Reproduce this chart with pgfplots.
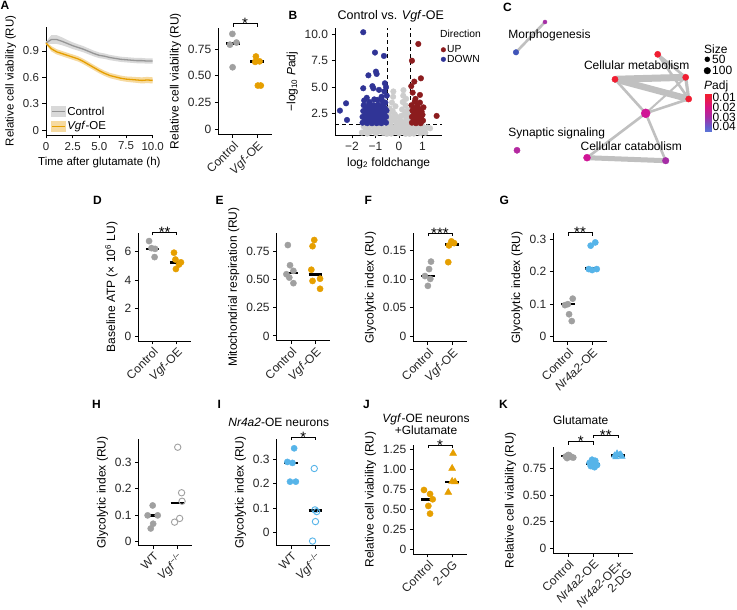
\documentclass[border=0pt]{standalone}
\usepackage{fontspec}
\setmainfont{Liberation Sans}
\usepackage{pgfplots}
\pgfplotsset{compat=1.18}
\newcommand{\fs}[1]{\fontsize{#1}{#1}\selectfont}
\definecolor{ggray}{RGB}{160,160,160}
\definecolor{gorange}{RGB}{230,159,0}
\definecolor{gblue}{RGB}{86,180,233}
\definecolor{ctlband}{RGB}{217,217,217}
\definecolor{ctlline}{RGB}{150,150,150}
\definecolor{vgfband}{RGB}{246,218,160}
\definecolor{downblue}{RGB}{48,52,150}
\definecolor{upred}{RGB}{140,28,30}
\definecolor{nsgray}{RGB}{205,205,205}
\definecolor{edgegray}{RGB}{192,192,192}
\definecolor{nred}{RGB}{240,30,50}
\definecolor{nmag}{RGB}{208,20,150}
\definecolor{npur}{RGB}{165,45,165}
\definecolor{nblue}{RGB}{65,85,185}
\pgfplotsset{
  gg/.style={scale only axis, anchor=south west, axis lines=left,
    axis line style={-, line width=0.8pt}, tick align=outside, major tick length=3.5pt,
    every tick/.style={black, line width=0.8pt},
    tick label style={font=\fs{12}, text=black!85},
    label style={font=\fs{12}},
    /pgf/number format/assume math mode=true, clip=false, scaled ticks=false},
  cat2/.style={xmin=0.4, xmax=2.6, xtick={1,2},
    xticklabel style={rotate=45, anchor=north east, inner sep=1.5pt, align=right}},
  pts/.style={only marks, mark=*, mark size=3.1pt, forget plot},
  med/.style={black, line width=2.6pt, forget plot},
  brk/.style={black, line width=0.6pt, forget plot},
}
\newcommand{\sig}[2]{\node[anchor=base, font=\fs{15}, inner sep=0pt] at (axis cs:#1) [yshift=-5.2pt] {#2};}
\begin{document}
\begin{tikzpicture}[x=1pt,y=1pt]
\useasboundingbox (0,0) rectangle (737,610);
\fill[white] (0,0) rectangle (737,610);

% ---------- Panel letters and titles ----------
\begin{scope}[every node/.style={inner sep=0pt, font=\bfseries\fs{12}, anchor=base west}]
\node at (0.5,600) {A};
\node at (288.5,590.5) {B};
\node at (503,598.7) {C};
\node at (93,405) {D};
\node at (215.5,405) {E};
\node at (364.5,405) {F};
\node at (499.5,405) {G};
\node at (92,201) {H};
\node at (217.5,201) {I};
\node at (363,201) {J};
\node at (499,201) {K};
\end{scope}
\node[anchor=base, inner sep=0pt, font=\fs{12.5}] at (390.8,590.5) {Control vs. \textit{Vgf}-OE};
\node[anchor=base, inner sep=0pt, font=\fs{12}] at (278.7,183) {\textit{Nr4a2}-OE neurons};
\node[anchor=base, inner sep=0pt, font=\fs{12}] at (426,187.4) {\textit{Vgf}-OE neurons};
\node[anchor=base, inner sep=0pt, font=\fs{12}] at (426,175) {+Glutamate};
\node[anchor=base, inner sep=0pt, font=\fs{12}] at (580.7,185.7) {Glutamate};

% ---------- A left: time course ----------
\begin{axis}[gg, at={(46pt,475pt)}, width=106.7pt, height=108.3pt,
  xmin=0, xmax=10, ymin=-0.056, ymax=1.176,
  xtick={0,2.5,5,7.5,10}, xticklabels={0,2.5,5.0,7.5,10.0},
  ytick={0,0.3,0.6,0.9}, yticklabels={0,0.3,0.6,0.9},
  tick label style={font=\fs{11.5}}, label style={font=\fs{11.5}},
  xlabel={Time after glutamate (h)}, ylabel={Relative cell viability (RU)},
  legend style={at={(axis cs:0.45,-0.035)}, anchor=south west, draw=none, fill=none,
    font=\fs{11.5}, row sep=2pt, inner sep=0pt, nodes={inner sep=1.5pt}},
  legend cell align=left]
\addplot[fill=ctlband, draw=none, forget plot] coordinates {
(0,1.005) (0.5,1.08) (1,1.08) (1.5,1.055) (2,1.025) (2.5,0.998) (3,0.976) (3.5,0.955) (4,0.929) (4.5,0.903) (5,0.882) (5.5,0.871) (6,0.855) (6.5,0.845) (7,0.835) (7.5,0.83) (8,0.825) (8.5,0.82) (9,0.82) (9.5,0.815) (10,0.815)
(10,0.755) (9.5,0.755) (9,0.76) (8.5,0.76) (8,0.765) (7.5,0.77) (7,0.775) (6.5,0.785) (6,0.795) (5.5,0.809) (5,0.818) (4.5,0.837) (4,0.861) (3.5,0.885) (3,0.904) (2.5,0.922) (2,0.945) (1.5,0.965) (1,0.98) (0.5,0.98) (0,0.975)};
\addplot[fill=vgfband, draw=none, forget plot] coordinates {
(0,1.005) (0.5,0.955) (1,0.92) (1.5,0.90) (2,0.88) (2.5,0.86) (3,0.84) (3.5,0.81) (4,0.775) (4.5,0.74) (5,0.705) (5.5,0.675) (6,0.65) (6.5,0.635) (7,0.62) (7.5,0.61) (8,0.607) (8.5,0.603) (9,0.60) (9.5,0.605) (10,0.60)
(10,0.53) (9.5,0.535) (9,0.53) (8.5,0.537) (8,0.543) (7.5,0.55) (7,0.56) (6.5,0.575) (6,0.59) (5.5,0.615) (5,0.645) (4.5,0.68) (4,0.715) (3.5,0.75) (3,0.78) (2.5,0.80) (2,0.82) (1.5,0.84) (1,0.86) (0.5,0.895) (0,0.975)};
\addplot[ctlline, line width=1.3pt, forget plot] coordinates {
(0,0.99) (0.5,1.03) (1,1.03) (1.5,1.01) (2,0.985) (2.5,0.96) (3,0.94) (3.5,0.92) (4,0.895) (4.5,0.87) (5,0.85) (5.5,0.84) (6,0.825) (6.5,0.815) (7,0.805) (7.5,0.80) (8,0.795) (8.5,0.79) (9,0.79) (9.5,0.785) (10,0.785)};
\addplot[gorange, line width=1.3pt, forget plot] coordinates {
(0,0.99) (0.5,0.925) (1,0.89) (1.5,0.87) (2,0.85) (2.5,0.83) (3,0.81) (3.5,0.78) (4,0.745) (4.5,0.71) (5,0.675) (5.5,0.645) (6,0.62) (6.5,0.605) (7,0.59) (7.5,0.58) (8,0.575) (8.5,0.57) (9,0.565) (9.5,0.57) (10,0.565)};
\addlegendimage{legend image code/.code={\fill[ctlband] (0pt,-5pt) rectangle (13.5pt,5pt); \draw[ctlline, line width=1.3pt] (0pt,0pt) -- (13.5pt,0pt);}}
\addlegendentry{Control}
\addlegendimage{legend image code/.code={\fill[vgfband] (0pt,-5pt) rectangle (13.5pt,5pt); \draw[gorange, line width=1.3pt] (0pt,0pt) -- (13.5pt,0pt);}}
\addlegendentry{\textit{Vgf}-OE}
\end{axis}

% ---------- A right ----------
\begin{axis}[gg, cat2, at={(218.3pt,475.5pt)}, width=53.4pt, height=106.5pt,
  ymin=-0.045, ymax=0.945, ytick={0,0.25,0.5,0.75}, yticklabels={0,0.25,0.50,0.75},
  xticklabels={Control,\textit{Vgf}-OE}, ylabel={Relative cell viability (RU)}]
\addplot[pts, ggray] coordinates {(0.98,0.89) (0.88,0.79) (1.15,0.81) (0.99,0.58)};
\addplot[pts, gorange] coordinates {(1.95,0.68) (2.1,0.635) (1.92,0.63) (2.03,0.41) (2.15,0.41)};
\addplot[med] coordinates {(0.72,0.80) (1.28,0.80)};
\addplot[med] coordinates {(1.72,0.635) (2.28,0.635)};
\addplot[brk] coordinates {(1,0.957) (1,0.985) (2,0.985) (2,0.957)};
\sig{1.5,0.985}{*}
\end{axis}

% ---------- B volcano ----------
\begin{axis}[gg, clip=true, at={(335pt,475pt)}, width=107.3pt, height=106.7pt,
  xmin=-2.72, xmax=1.84, ymin=0.49, ymax=10.56,
  xtick={-2,-1,0,1}, xticklabels={−2,−1,0,1},
  ytick={2.5,5,7.5,10}, yticklabels={2.5,5.0,7.5,10.0},
  xlabel={log\textsubscript{2} foldchange}, ylabel={−log\textsubscript{10} \textit{P}adj},
  legend style={at={(rel axis cs:0.985,0.852)}, anchor=north west, draw=none, fill=none,
    font=\fs{10.3}, row sep=-1.5pt, inner sep=0pt, nodes={inner sep=1.2pt}},
  legend cell align=left]
\addplot[only marks, mark=*, mark size=2.8pt, nsgray, forget plot] table {
-1.58 0.72
-1.50 1.30
-1.42 0.95
-1.35 0.62
-1.28 1.18
-1.20 0.80
-1.12 1.40
-1.05 0.98
-0.98 0.65
-0.90 1.22
-0.82 0.85
-0.75 1.38
-0.68 0.70
-0.60 1.05
-0.52 0.60
-0.46 1.30
-0.40 0.90
-0.33 0.62
-0.27 1.15
-0.20 0.78
-0.13 1.35
-0.06 0.95
0.00 0.65
0.07 1.20
0.14 0.82
0.21 1.42
0.28 0.60
0.35 1.00
0.42 1.28
0.49 0.75
0.56 1.10
0.63 0.62
0.70 1.35
0.77 0.88
0.84 1.18
0.91 0.66
0.98 1.40
1.05 0.95
1.12 0.70
1.20 1.20
1.32 1.12
-1.00 1.35
-0.70 1.00
-0.35 1.40
0.25 1.00
0.60 0.85
0.90 1.00
-1.30 0.90
0.00 1.10
-0.50 0.95
0.45 0.60
-0.47 1.75
-0.44 2.40
-0.40 3.00
-0.36 1.65
-0.33 2.10
-0.30 3.55
-0.27 2.75
-0.25 4.10
-0.24 4.60
-0.21 1.90
-0.18 2.45
-0.15 3.20
-0.12 1.70
-0.09 2.20
-0.05 1.60
0.06 1.85
0.10 2.30
0.13 2.90
0.16 3.60
0.18 4.20
0.19 4.72
0.22 1.70
0.25 2.50
0.28 3.30
0.31 2.05
0.34 1.62
0.37 2.85
0.40 2.25
0.44 1.80
0.47 2.60
-0.42 1.95
0.12 1.65
0.30 3.90
-0.38 2.65
};
\addplot[only marks, mark=*, mark size=2.8pt, downblue, forget plot] table {
-1.52 10.19
-1.02 8.27
-0.64 7.95
-0.98 6.47
-1.30 6.12
-0.95 6.25
-1.52 4.90
-1.09 4.90
-0.60 5.37
-2.51 2.79
-2.25 3.48
-2.21 1.91
-1.13 5.10
-1.37 4.00
-0.62 4.60
-0.74 4.10
-0.85 4.75
-0.55 5.00
-1.55 1.65
-1.55 2.20
-1.52 2.75
-1.50 3.30
-1.45 1.90
-1.42 2.50
-1.40 3.05
-1.35 1.60
-1.33 2.15
-1.30 2.80
-1.28 3.40
-1.25 1.85
-1.22 2.45
-1.20 3.00
-1.15 1.60
-1.13 2.20
-1.10 2.70
-1.08 3.30
-1.05 3.85
-1.05 1.90
-1.02 2.45
-1.00 3.00
-0.95 1.60
-0.93 2.15
-0.90 2.75
-0.88 3.35
-0.92 3.80
-0.85 1.85
-0.82 2.45
-0.80 3.05
-0.75 1.60
-0.73 2.20
-0.70 2.75
-0.68 3.30
-0.72 3.75
-0.65 1.90
-0.62 2.45
-0.60 3.05
-0.58 3.55
-0.55 1.65
-0.55 2.20
-0.53 2.80
-0.52 4.20
-1.48 3.75
-1.25 3.60
};
\addplot[only marks, mark=*, mark size=2.8pt, upred, forget plot] table {
0.82 9.08
0.55 7.50
0.93 5.84
0.65 5.53
0.58 4.49
0.89 4.27
0.67 3.64
0.89 3.55
1.60 2.29
0.52 5.10
0.55 1.65
0.55 2.20
0.57 2.80
0.53 3.30
0.62 1.90
0.64 2.45
0.66 3.00
0.72 1.60
0.74 2.15
0.76 2.70
0.78 3.25
0.82 1.85
0.84 2.40
0.86 2.95
0.92 1.60
0.94 2.15
0.96 2.70
1.02 1.85
1.00 2.40
1.04 3.10
0.70 3.90
};
\addplot[black, line width=0.9pt, dash pattern=on 4pt off 3pt, forget plot] coordinates {(-0.5,0.49) (-0.5,10.56)};
\addplot[black, line width=0.9pt, dash pattern=on 4pt off 3pt, forget plot] coordinates {(0.5,0.49) (0.5,10.56)};
\addplot[black, line width=0.9pt, dash pattern=on 4pt off 3pt, forget plot] coordinates {(-2.72,1.5) (1.84,1.5)};
\addlegendimage{legend image code/.code={\fill[upred] (2.2pt,0pt) circle (2.3pt);}}
\addlegendentry{UP}
\addlegendimage{legend image code/.code={\fill[downblue] (2.2pt,0pt) circle (2.3pt);}}
\addlegendentry{DOWN}
\end{axis}
\node[anchor=west, inner sep=0pt, font=\fs{10.3}] at (440,575.7) {Direction};

% ---------- C network ----------
\begin{axis}[at={(490pt,410pt)}, anchor=south west, scale only axis, width=247pt, height=200pt,
  xmin=490, xmax=737, ymin=0, ymax=200, y dir=reverse, hide axis, clip=false]
\addplot[edgegray, line width=2.6pt] coordinates {(545,22) (516,52.3)};
\addplot[edgegray, line width=7pt] coordinates {(615,79.3) (685.7,77.3)};
\addplot[edgegray, line width=6.5pt] coordinates {(615,79.3) (688.7,99)};
\addplot[edgegray, line width=2.6pt] coordinates {(657.7,54.3) (685.7,77.3)};
\addplot[edgegray, line width=2.6pt] coordinates {(657.7,54.3) (688.7,99)};
\addplot[edgegray, line width=3.2pt] coordinates {(685.7,77.3) (688.7,99)};
\addplot[edgegray, line width=2.6pt] coordinates {(615,79.3) (645.7,113.3)};
\addplot[edgegray, line width=2.6pt] coordinates {(645.7,113.3) (688.7,99)};
\addplot[edgegray, line width=2pt] coordinates {(645.7,113.3) (685.7,77.3)};
\addplot[edgegray, line width=2.6pt] coordinates {(645.7,113.3) (587,157.7)};
\addplot[edgegray, line width=2.6pt] coordinates {(645.7,113.3) (665.7,160.7)};
\addplot[edgegray, line width=5pt] coordinates {(587,157.7) (665.7,160.7)};
\addplot[only marks, mark=*, mark size=2pt, npur] coordinates {(545,22)};
\addplot[only marks, mark=*, mark size=2.8pt, nblue] coordinates {(516,52.3)};
\addplot[only marks, mark=*, mark size=3.1pt, nred] coordinates {(657.7,54.3) (615,79.3) (685.7,77.3) (688.7,99)};
\addplot[only marks, mark=*, mark size=4.5pt, nmag] coordinates {(645.7,113.3)};
\addplot[only marks, mark=*, mark size=3.1pt, color={rgb,255:red,180;green,40;blue,160}] coordinates {(517,150.3)};
\addplot[only marks, mark=*, mark size=3.5pt, nmag] coordinates {(587,157.7)};
\addplot[only marks, mark=*, mark size=3.3pt, npur] coordinates {(665.7,160.7)};
\node[font=\fs{12}] at (axis cs:549.5,35) {Morphogenesis};
\node[font=\fs{12}] at (axis cs:636.7,65) {Cellular metabolism};
\node[font=\fs{12}] at (axis cs:556.7,133.3) {Synaptic signaling};
\node[font=\fs{12}] at (axis cs:631.3,146.7) {Cellular catabolism};
\node[font=\fs{12}, anchor=west, inner sep=0pt] at (axis cs:704,49.3) {Size};
\addplot[only marks, mark=*, mark size=2.5pt, black] coordinates {(707.3,59.3)};
\addplot[only marks, mark=*, mark size=3.3pt, black] coordinates {(707.3,70.7)};
\node[font=\fs{12}, anchor=west, inner sep=0pt] at (axis cs:712,59.3) {50};
\node[font=\fs{12}, anchor=west, inner sep=0pt] at (axis cs:712,70.7) {100};
\node[font=\fs{12}, anchor=west, inner sep=0pt] at (axis cs:704,86) {\textit{P}adj};
\node[font=\fs{12}, anchor=west, inner sep=0pt] at (axis cs:712.3,97.3) {0.01};
\node[font=\fs{12}, anchor=west, inner sep=0pt] at (axis cs:712.3,107.1) {0.02};
\node[font=\fs{12}, anchor=west, inner sep=0pt] at (axis cs:712.3,116.9) {0.03};
\node[font=\fs{12}, anchor=west, inner sep=0pt] at (axis cs:712.3,126.7) {0.04};
\end{axis}
% colorbar
\begin{axis}[at={(704.3pt,478.3pt)}, anchor=south west, scale only axis, width=7.4pt, height=38.4pt,
  xmin=0, xmax=1, ymin=0, ymax=1, hide axis, view={0}{90},
  colormap={padj}{rgb255(0pt)=(90,120,215) rgb255(128pt)=(100,95,205) rgb255(384pt)=(165,45,165) rgb255(639pt)=(215,20,130) rgb255(895pt)=(238,28,60) rgb255(1000pt)=(242,30,45)},
  point meta min=0, point meta max=1]
\addplot3[surf, shader=interp, point meta=y] coordinates {
(0,0,0) (1,0,0)

(0,0.128,0) (1,0.128,0)

(0,0.384,0) (1,0.384,0)

(0,0.639,0) (1,0.639,0)

(0,0.895,0) (1,0.895,0)

(0,1,0) (1,1,0)
};
\end{axis}

% ---------- D ----------
\begin{axis}[gg, cat2, at={(138.3pt,269pt)}, width=52.7pt, height=108pt,
  ymin=-0.3, ymax=7.32, ytick={0,2,4,6},
  xticklabels={Control,\textit{Vgf}-OE}, ylabel={Baseline ATP (× 10\textsuperscript{6} LU)}]
\addplot[pts, ggray] coordinates {(0.85,6.75) (1.1,6.2) (0.95,6.25) (1.08,5.62)};
\addplot[pts, gorange] coordinates {(1.89,5.93) (2.18,5.25) (1.95,5.45) (1.97,4.78) (2.1,5.1)};
\addplot[med] coordinates {(0.72,6.2) (1.28,6.2)};
\addplot[med] coordinates {(1.72,5.22) (2.28,5.22)};
\addplot[brk] coordinates {(1,7.16) (1,7.37) (2,7.37) (2,7.16)};
\sig{1.5,7.37}{**}
\end{axis}

% ---------- E ----------
\begin{axis}[gg, cat2, at={(276.7pt,269.3pt)}, width=53.3pt, height=107.4pt,
  ymin=-0.043, ymax=0.915, ytick={0,0.25,0.5,0.75}, yticklabels={0,0.25,0.50,0.75},
  xticklabels={Control,\textit{Vgf}-OE}, ylabel={Mitochondrial respiration (RU)}]
\addplot[pts, ggray] coordinates {(0.86,0.81) (0.95,0.63) (1.09,0.58) (0.8,0.55) (0.92,0.52) (1.09,0.47)};
\addplot[pts, gorange] coordinates {(1.95,0.855) (1.88,0.80) (1.83,0.59) (1.88,0.49) (2.19,0.51) (2.19,0.42)};
\addplot[med] coordinates {(0.72,0.562) (1.28,0.562)};
\addplot[med] coordinates {(1.72,0.545) (2.28,0.545)};
\end{axis}

% ---------- F ----------
\begin{axis}[gg, cat2, at={(413.3pt,268.3pt)}, width=53.4pt, height=108.4pt,
  ymin=-0.0087, ymax=0.179, ytick={0,0.05,0.1,0.15}, yticklabels={0,0.05,0.10,0.15},
  xticklabels={Control,\textit{Vgf}-OE}, ylabel={Glycolytic index (RU)}]
\addplot[pts, ggray] coordinates {(1.13,0.130) (1.05,0.117) (0.88,0.105) (1.1,0.100) (1.0,0.088)};
\addplot[pts, gorange] coordinates {(1.97,0.165) (1.87,0.158) (2.08,0.162) (1.84,0.129)};
\addplot[med] coordinates {(0.72,0.105) (1.28,0.105)};
\addplot[med] coordinates {(1.72,0.160) (2.28,0.160)};
\addplot[brk] coordinates {(1,0.1737) (1,0.1789) (2,0.1789) (2,0.1737)};
\sig{1.5,0.1789}{***}
\end{axis}

% ---------- G ----------
\begin{axis}[gg, cat2, at={(553.3pt,268.3pt)}, width=53.4pt, height=108.7pt,
  ymin=-0.0154, ymax=0.319, ytick={0,0.1,0.2,0.3}, yticklabels={0,0.1,0.2,0.3},
  xticklabels={Control,\textit{Nr4a2}-OE}, ylabel={Glycolytic index (RU)}]
\addplot[pts, ggray] coordinates {(1.2,0.117) (0.88,0.097) (1.0,0.10) (1.05,0.069) (1.16,0.048)};
\addplot[pts, gblue] coordinates {(1.94,0.28) (2.13,0.29) (1.86,0.208) (2.19,0.208) (2.0,0.205)};
\addplot[med] coordinates {(0.72,0.10) (1.28,0.10)};
\addplot[med] coordinates {(1.72,0.21) (2.28,0.21)};
\addplot[brk] coordinates {(1,0.3108) (1,0.320) (2,0.320) (2,0.3108)};
\sig{1.5,0.320}{**}
\end{axis}

% ---------- H ----------
\begin{axis}[gg, cat2, at={(138.7pt,64.3pt)}, width=53pt, height=106.4pt,
  ymin=-0.015, ymax=0.387, ytick={0,0.1,0.2,0.3}, yticklabels={0,0.1,0.2,0.3},
  xticklabels={WT,\textit{Vgf}\textsuperscript{−/−}}, ylabel={Glycolytic index (RU)}]
\addplot[pts, ggray] coordinates {(0.98,0.137) (1.19,0.0996) (0.77,0.0996) (1.0,0.068) (0.9,0.050)};
\addplot[only marks, mark=o, mark size=3.2pt, line width=0.9pt, ggray, forget plot] coordinates {(2.02,0.357) (2.18,0.185) (2.2,0.153) (2.1,0.088) (1.89,0.074)};
\addplot[med] coordinates {(0.72,0.10) (1.28,0.10)};
\addplot[med] coordinates {(1.72,0.147) (2.28,0.147)};
\end{axis}

% ---------- I ----------
\begin{axis}[gg, cat2, at={(276.7pt,64.3pt)}, width=53.3pt, height=106.4pt,
  ymin=-0.055, ymax=0.382, ytick={0,0.1,0.2,0.3}, yticklabels={0,0.1,0.2,0.3},
  xticklabels={WT,\textit{Vgf}\textsuperscript{−/−}}, ylabel={Glycolytic index (RU)}]
\addplot[pts, gblue] coordinates {(1.12,0.345) (0.84,0.289) (1.05,0.285) (0.95,0.208) (1.19,0.208)};
\addplot[only marks, mark=o, mark size=3.2pt, line width=0.9pt, gblue, forget plot] coordinates {(1.95,0.262) (1.98,0.092) (2.05,0.085) (2.0,0.044) (1.88,-0.036)};
\addplot[med] coordinates {(0.72,0.285) (1.28,0.285)};
\addplot[med] coordinates {(1.72,0.09) (2.28,0.09)};
\addplot[brk] coordinates {(1,0.3777) (1,0.390) (2,0.390) (2,0.3777)};
\sig{1.5,0.390}{*}
\end{axis}

% ---------- J ----------
\begin{axis}[gg, cat2, at={(413.3pt,56pt)}, width=53.4pt, height=109pt,
  ymin=-0.059, ymax=1.30, ytick={0,0.25,0.5,0.75,1,1.25}, yticklabels={0,0.25,0.50,0.75,1.00,1.25},
  xticklabels={Control,2-DG}, ylabel={Relative cell viability (RU)}]
\addplot[pts, gorange] coordinates {(0.84,0.739) (1.09,0.689) (1.2,0.623) (1.02,0.54) (1.09,0.444)};
\addplot[only marks, mark=triangle*, mark size=4pt, gorange, forget plot] coordinates {(2.04,1.196) (2.0,1.009) (2.0,0.847) (1.84,0.71) (2.12,0.84)};
\addplot[med] coordinates {(0.72,0.62) (1.28,0.62)};
\addplot[med] coordinates {(1.72,0.84) (2.28,0.84)};
\addplot[brk] coordinates {(1,1.263) (1,1.30) (2,1.30) (2,1.263)};
\sig{1.5,1.30}{*}
\end{axis}

% ---------- K ----------
\begin{axis}[gg, at={(553.3pt,56.7pt)}, width=80pt, height=106.6pt,
  xmin=0.4, xmax=3.6, xtick={1,2,3},
  xticklabel style={rotate=45, anchor=north east, inner sep=1.5pt, align=right},
  xticklabels={Control,\textit{Nr4a2}-OE,{\textit{Nr4a2}-OE+\\2-DG}},
  ymin=-0.047, ymax=0.952, ytick={0,0.25,0.5,0.75}, yticklabels={0,0.25,0.50,0.75},
  ylabel={Relative cell viability (RU)}]
\addplot[pts, ggray] coordinates {(0.9,0.86) (1.0,0.875) (1.12,0.855) (1.2,0.85) (0.95,0.845) (1.05,0.87)};
\addplot[pts, gblue] coordinates {(1.85,0.80) (1.95,0.83) (2.08,0.82) (2.15,0.78) (1.9,0.77) (2.05,0.76) (2.0,0.79)};
\addplot[only marks, mark=triangle*, mark size=3.6pt, gblue, forget plot] coordinates {(2.85,0.87) (2.95,0.89) (3.05,0.875) (3.15,0.86) (2.9,0.855) (3.1,0.88)};
\addplot[med] coordinates {(0.72,0.865) (1.28,0.865)};
\addplot[med] coordinates {(1.72,0.79) (2.28,0.79)};
\addplot[med] coordinates {(2.72,0.868) (3.28,0.868)};
\addplot[brk] coordinates {(1,0.971) (1,0.999) (2,0.999) (2,0.971)};
\sig{1.5,0.999}{*}
\addplot[brk] coordinates {(2,1.034) (2,1.062) (3,1.062) (3,1.034)};
\sig{2.5,1.062}{**}
\end{axis}
\end{tikzpicture}
\end{document}
